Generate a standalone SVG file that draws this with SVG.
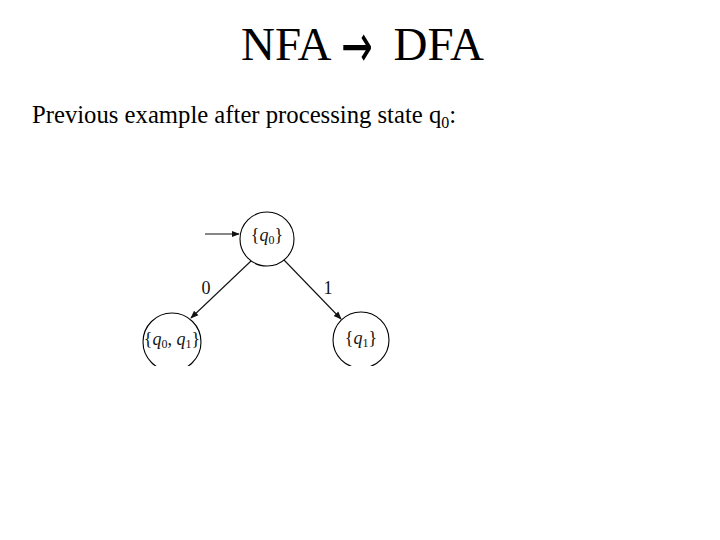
<svg xmlns="http://www.w3.org/2000/svg" width="720" height="540" viewBox="0 0 720 540">
<style>
.t{font-family:"Liberation Serif","Times New Roman",serif;fill:#000}
.st{fill:none;stroke:#000;stroke-width:1.1}
.lb{font-family:"Liberation Serif","Times New Roman",serif;font-size:18px;fill:#111}
.ed{fill:none;stroke:#111;stroke-width:1.1}
</style>
<defs>
<marker id="ah" viewBox="0 0 10 10" refX="9" refY="5" markerWidth="8" markerHeight="8" orient="auto" markerUnits="userSpaceOnUse">
<path d="M0,1 L10,5 L0,9 Z" fill="#111"/>
</marker>
<clipPath id="cut"><rect x="0" y="0" width="720" height="366"/></clipPath>
</defs>
<rect width="720" height="540" fill="#fff"/>
<text class="t" x="241" y="60" font-size="47">NFA</text>
<text transform="translate(357,47) scale(1.05,1.7)" x="0" y="11.5" font-size="36" text-anchor="middle" font-family="DejaVu Sans, sans-serif" fill="#000">→</text>
<text class="t" x="484" y="60" font-size="47" text-anchor="end">DFA</text>
<text class="t" x="32" y="123" font-size="24.7">Previous example after processing state q<tspan font-size="16" dy="5">0</tspan><tspan dy="-5">:</tspan></text>
<g clip-path="url(#cut)">
<g id="connectors">
<line class="ed" x1="205" y1="234" x2="239" y2="234" marker-end="url(#ah)"/>
<line class="ed" x1="251" y1="261" x2="191" y2="318" marker-end="url(#ah)"/>
<line class="ed" x1="284" y1="260" x2="341" y2="319" marker-end="url(#ah)"/>
<text class="lb" x="206" y="294" text-anchor="middle">0</text>
<text class="lb" x="328" y="294" text-anchor="middle">1</text>
</g>
<g id="q0">
<circle class="st" cx="267" cy="239" r="27"/>
<text class="lb" x="267" y="241" text-anchor="middle">{<tspan font-style="italic">q</tspan><tspan font-size="12" dy="3">0</tspan><tspan dy="-3">}</tspan></text>
</g>
<g id="q0q1">
<circle class="st" cx="172" cy="342" r="29"/>
<text class="lb" x="172" y="345" font-size="17" text-anchor="middle">{<tspan font-style="italic">q</tspan><tspan font-size="12" dy="3">0</tspan><tspan dy="-3">, </tspan><tspan font-style="italic">q</tspan><tspan font-size="12" dy="3">1</tspan><tspan dy="-3">}</tspan></text>
</g>
<g id="q1">
<circle class="st" cx="361" cy="340" r="28"/>
<text class="lb" x="361" y="344" text-anchor="middle">{<tspan font-style="italic">q</tspan><tspan font-size="12" dy="3">1</tspan><tspan dy="-3">}</tspan></text>
</g>
</g>
</svg>
